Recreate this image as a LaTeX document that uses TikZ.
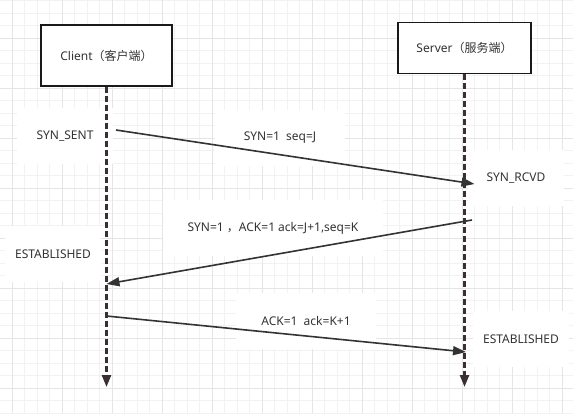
\documentclass[tikz,border=0pt]{standalone}
\usepackage{fontspec}
\setmainfont{Noto Sans}
\newfontfamily\cjk{Noto Sans CJK SC}
\usetikzlibrary{arrows.meta}
\definecolor{ink}{HTML}{333333}
\definecolor{lane}{HTML}{3A3034}
\begin{document}
\begin{tikzpicture}[x=1pt, y=-1pt,
  every node/.style={font=\fontsize{12}{14}\selectfont, text=ink},
  minorline/.style={black!5, line width=0.8pt},
  majorline/.style={black!10, line width=0.8pt},
  box/.style={draw=black!90, line width=1.4pt, fill=white, inner sep=0pt},
  lbl/.style={fill=white, inner sep=0pt, minimum height=56pt},
  lifeline/.style={lane, line width=2.4pt, dash pattern=on 6pt off 3pt, -{Triangle[length=12pt,width=9pt]}},
  msg/.style={ink, line width=1.6pt, -{Triangle[length=13pt,width=9pt]}}]
  \useasboundingbox[fill=white] (0,0) rectangle (573,413);
  % background grid
  \foreach \gx in {12,24.5,...,573} \draw[minorline] (\gx,0) -- (\gx,413);
  \foreach \gy in {0.5,13,...,413} \draw[minorline] (0,\gy) -- (573,\gy);
  \foreach \gx in {12,62,...,573} \draw[majorline] (\gx,0) -- (\gx,413);
  \foreach \gy in {38,88,...,413} \draw[majorline] (0,\gy) -- (573,\gy);
  % state and message labels
  \node[lbl, minimum width=96pt] (synsent) at (65,136) {SYN\_SENT};
  \node[lbl, minimum width=130pt] (lsyn) at (280,138) {SYN=1\ \ seq=J};
  \node[lbl, minimum width=96pt] (synrcvd) at (516,178) {SYN\_RCVD};
  \node[lbl, minimum width=220pt] (lsynack) at (273,228) {SYN=1 {\cjk ，}ACK=1 ack=J+1,seq=K};
  \node[lbl, minimum width=96pt] (estc) at (53,254) {ESTABLISHED};
  \node[lbl, minimum width=140pt] (lack) at (306,321) {ACK=1\ \ ack=K+1};
  \node[lbl, minimum width=96pt] (ests) at (521,339) {ESTABLISHED};
  % hosts
  \node[box, minimum width=131pt, minimum height=61pt] (client) at (106.5,55.5) {Client{\cjk （客户端）}};
  \node[box, minimum width=133pt, minimum height=51pt] (server) at (464.5,48) {Server{\cjk （服务端）}};
  \coordinate (cend) at (106.5,387);
  \coordinate (send) at (464.5,387);
  \draw[lifeline] (client) -- (cend);
  \draw[lifeline] (server) -- (send);
  % handshake
  \coordinate (a1) at (116,130);   \coordinate (b1) at (474.5,184);
  \coordinate (a2) at (472,220);   \coordinate (b2) at (106.5,284);
  \coordinate (a3) at (106.5,316); \coordinate (b3) at (466,352);
  \draw[msg] (a1) -- (b1);
  \draw[msg] (a2) -- (b2);
  \draw[msg] (a3) -- (b3);
\end{tikzpicture}
\end{document}
